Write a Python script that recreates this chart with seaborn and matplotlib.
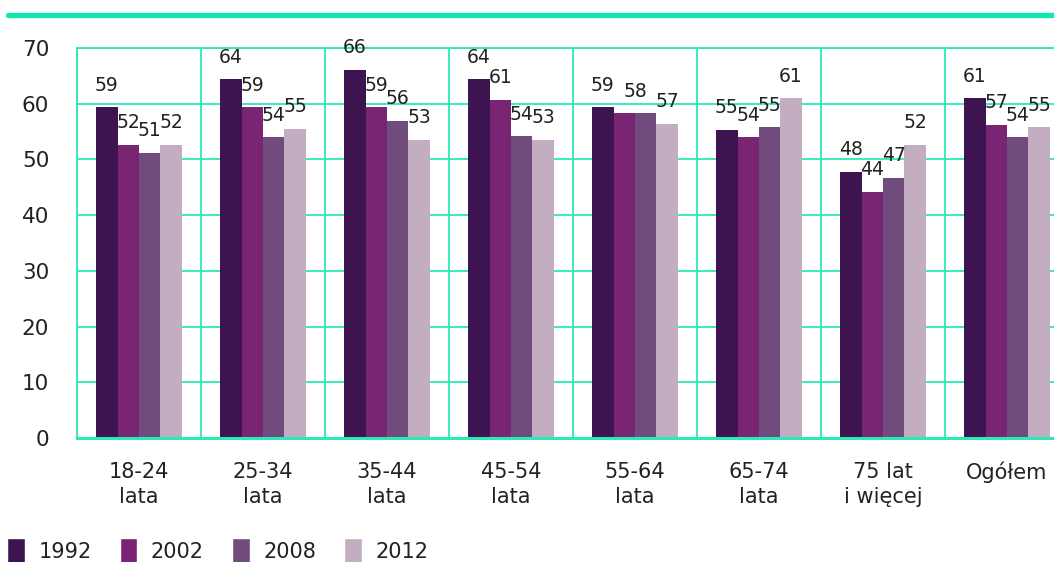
import pandas as pd
import matplotlib.pyplot as plt
import seaborn as sns
from matplotlib.lines import Line2D
from matplotlib.patches import Patch

# dane
grupy = ["18-24\nlata", "25-34\nlata", "35-44\nlata", "45-54\nlata",
         "55-64\nlata", "65-74\nlata", "75 lat\ni więcej", "Ogółem"]
lata = ["1992", "2002", "2008", "2012"]
w1992 = [59.4, 64.4, 66.1, 64.4, 59.4, 55.3, 47.8, 61.0]
w2002 = [52.6, 59.4, 59.4, 60.7, 58.3, 54.0, 44.2, 56.2]
w2008 = [51.2, 54.0, 56.9, 54.2, 58.3, 55.8, 46.7, 54.0]
w2012 = [52.6, 55.5, 53.5, 53.5, 56.4, 61.0, 52.6, 55.8]
# w grupie 55-64 etykiety 2002 i 2008 (obie 58) nakładają się -> jedna wspólna
etykiety = {
    "1992": ["59", "64", "66", "64", "59", "55", "48", "61"],
    "2002": ["52", "59", "59", "61", "", "54", "44", "57"],
    "2008": ["51", "54", "56", "54", "", "55", "47", "54"],
    "2012": ["52", "55", "53", "53", "57", "61", "52", "55"],
}
kolory = ["#3D1450", "#7A2474", "#6F4C7B", "#C2ADC1"]
turkus = "#2DE8B8"

df = pd.DataFrame({
    "grupa": grupy * 4,
    "rok": [r for r in lata for _ in grupy],
    "wartosc": w1992 + w2002 + w2008 + w2012,
})

sns.set_style("white")
plt.rcParams['font.family'] = ['DejaVu Sans']
plt.rcParams['text.color'] = '#222222'

fig = plt.figure(figsize=(10.54, 5.62), dpi=100)
ax = fig.add_axes([77 / 1054, 124 / 562, 992 / 1054, 390 / 562])

sns.barplot(data=df, x="grupa", y="wartosc", hue="rok", palette=kolory,
            width=0.69, gap=0, saturation=1, linewidth=0, ax=ax, legend=False)

for cont, rok in zip(ax.containers, lata):
    ax.bar_label(cont, labels=etykiety[rok], padding=9, fontsize=13.5,
                 color='#222222')

# wspólna etykieta "58" dla 55-64
i = 4
ax.annotate("58", xy=(i, max(w2002[i], w2008[i])), xytext=(0, 9),
            textcoords='offset points', ha='center', va='bottom',
            fontsize=13.5, color='#222222')

ax.set_ylim(0, 70)
ax.set_xlim(-0.5, len(grupy) - 0.5)
ax.set_yticks(range(0, 71, 10))
ax.set_xlabel("")
ax.set_ylabel("")

# siatka
ax.set_xticks([k - 0.5 for k in range(len(grupy) + 1)], minor=True)
ax.grid(axis='y', which='major', color=turkus, linewidth=1.3)
ax.grid(axis='x', which='minor', color=turkus, linewidth=1.3)
ax.grid(axis='x', which='major', visible=False)
ax.set_axisbelow(True)
for s in ['top', 'left', 'right']:
    ax.spines[s].set_color(turkus)
    ax.spines[s].set_linewidth(1.3)
ax.spines['bottom'].set_color(turkus)
ax.spines['bottom'].set_linewidth(2.2)

ax.tick_params(axis='y', length=0, pad=20, labelsize=15.5, labelcolor='#222222')
ax.tick_params(axis='x', which='both', length=0, pad=17, labelsize=15,
               labelcolor='#222222')
for t in ax.get_xticklabels():
    t.set_linespacing(1.35)

# linia na górze
fig.add_artist(Line2D([8 / 1054, 1], [547 / 562, 547 / 562], color="#12E6B0",
                      linewidth=3.8, transform=fig.transFigure))

# legenda
uchwyty = [Patch(facecolor=k, label=r) for k, r in zip(kolory, lata)]
fig.legend(handles=uchwyty, loc='center left', bbox_to_anchor=(7 / 1054, 0.019),
           ncol=4, frameon=False, fontsize=15, handlelength=0.85, handleheight=1.6,
           handletextpad=0.65, columnspacing=1.35, borderpad=0, borderaxespad=0)

fig.savefig("out.png", dpi=100)
